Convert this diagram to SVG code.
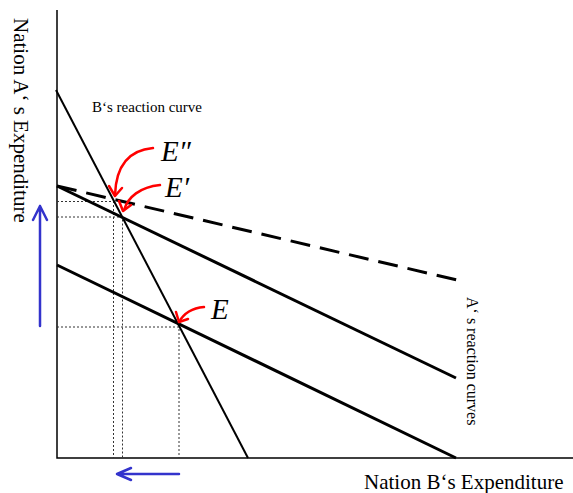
<svg xmlns="http://www.w3.org/2000/svg" width="573" height="493" viewBox="0 0 573 493">
<style>
.ax{stroke:#000;stroke-width:1.5;fill:none}
.thin{stroke:#000;stroke-width:2;fill:none}
.thick{stroke:#000;stroke-width:3;fill:none}
.dash{stroke:#000;stroke-width:3;fill:none;stroke-dasharray:20 10}
.dot{stroke:#333;stroke-width:1;fill:none;stroke-dasharray:2 2}
.red{stroke:#f00;stroke-width:2.5;fill:none;stroke-linecap:round;stroke-linejoin:round}
.blue{stroke:#3333cc;stroke-width:2.5;fill:none;stroke-linecap:round;stroke-linejoin:round}
.lbl{font-family:"Liberation Serif",serif;fill:#000}
.eq{font-family:"Liberation Serif",serif;font-style:italic;font-size:29px;fill:#000}
</style>
<rect width="573" height="493" fill="#fff"/>
<g id="axes">
<path class="ax" d="M57,10 V458 H573"/>
<text class="lbl" font-size="21" transform="translate(14,18) rotate(90)">Nation A‘  s Expenditure</text>
<text class="lbl" font-size="21" x="364" y="489">Nation B‘s Expenditure</text>
</g>
<g id="guides">
<path class="dot" d="M57,201.5 H113.5 V458 M57,217 H122.5 V458 M57,327 H179 V458"/>
</g>
<g id="b-curve">
<line class="thin" x1="56" y1="90" x2="248" y2="458"/>
<text class="lbl" font-size="15" x="92" y="112">B‘s reaction curve</text>
</g>
<g id="a-curves">
<line class="dash" x1="57" y1="186" x2="457" y2="280"/>
<line class="thick" x1="57" y1="186" x2="456" y2="378"/>
<line class="thick" x1="57" y1="265" x2="456" y2="458"/>
<text class="lbl" font-size="16" transform="translate(467,297) rotate(90)">A‘ s reaction curves</text>
</g>
<g id="E2">
<path class="red" d="M153,148 C130,150 116,165 115,195"/>
<path class="red" d="M109,186 L115,196 L122,188"/>
<text class="eq" x="161" y="161">E″</text>
</g>
<g id="E1">
<path class="red" d="M160,185 C140,187 128,197 124,210"/>
<path class="red" d="M119,201 L123,211 L131,205"/>
<text class="eq" x="165" y="197">E′</text>
</g>
<g id="E0">
<path class="red" d="M204,307 C193,308 184,313 179,322"/>
<path class="red" d="M176,312 L179,322 L188,319"/>
<text class="eq" x="211" y="319">E</text>
</g>
<g id="arrows">
<path class="blue" d="M40,326 V206 M33,220 L40,206 L47,220"/>
<path class="blue" d="M179,474 H117 M131,468 L117,474 L131,480"/>
</g>
</svg>
